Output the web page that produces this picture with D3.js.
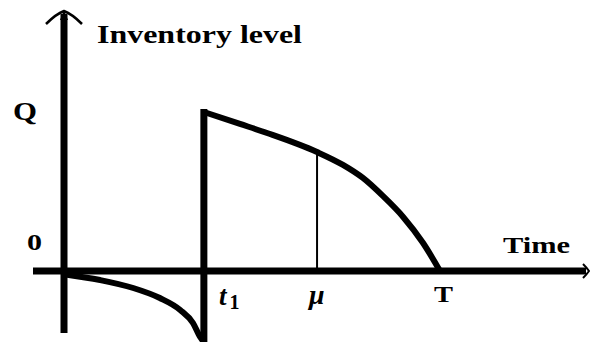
<!DOCTYPE html>
<html>
<head>
<meta charset="utf-8">
<script src="https://cdn.jsdelivr.net/npm/d3@7"></script>
<style>
  html, body { margin: 0; padding: 0; background: #fff; }
  svg { display: block; }
  text { font-family: "Liberation Serif", "Times New Roman", serif; font-weight: bold; fill: #000; }
</style>
</head>
<body>
<script>
const width = 590, height = 342

// time marks and level
const t1 = 3.72, mu = 6.73, T = 10, Q = 10

// stock on hand after replenishment at t1
const stockTime  = [3.72, 4.68, 5.40, 6.73, 7.42, 7.95, 8.48, 9.02, 9.55, 10]
const stockLevel = [10, 9.25, 8.68, 7.48, 6.67, 5.85, 4.72, 3.40, 1.76, 0]

// shortage before t1
const shortTime  = [0, 0.96, 1.84, 2.55, 3.09, 3.43, 3.62, 3.72]
const shortLevel = [-0.2, -0.57, -1.07, -1.70, -2.45, -3.27, -4.15, -4.47]

const x = d3.scaleLinear().domain([0, 10]).range([64, 440])
const y = d3.scaleLinear().domain([0, 10]).range([271, 112])

const svg = d3.select("body")
    .append("svg")
    .attr("width", width)
    .attr("height", height)

const line = d3.line()
    .x(d => x(d[0]))
    .y(d => y(d[1]))
    .curve(d3.curveMonotoneX)

// axes
svg.append("line")
    .attr("x1", x(0)).attr("x2", x(0))
    .attr("y1", 333).attr("y2", 14)
    .attr("stroke", "#000").attr("stroke-width", 7)

svg.append("line")
    .attr("x1", 33).attr("x2", 586)
    .attr("y1", y(0)).attr("y2", y(0))
    .attr("stroke", "#000").attr("stroke-width", 7)

// arrow heads
svg.append("path")
    .attr("d", `M${x(0) - 18},24 Q${x(0) - 8},14 ${x(0)},11 Q${x(0) + 8},14 ${x(0) + 18},24`)
    .attr("fill", "none").attr("stroke", "#000").attr("stroke-width", 2.5)
svg.append("path")
    .attr("d", `M${x(0) - 4},20 L${x(0)},10 L${x(0) + 4},20 Z`)
    .attr("fill", "#000")

svg.append("path")
    .attr("d", `M583,${y(0) - 7} Q587,${y(0) - 3} 589,${y(0)} Q587,${y(0) + 3} 583,${y(0) + 7}`)
    .attr("fill", "none").attr("stroke", "#000").attr("stroke-width", 2)

// curves
svg.append("path")
    .datum(d3.zip(shortTime, shortLevel))
    .attr("d", line)
    .attr("fill", "none").attr("stroke", "#000").attr("stroke-width", 6)

svg.append("path")
    .datum(d3.zip(stockTime, stockLevel))
    .attr("d", line)
    .attr("fill", "none").attr("stroke", "#000").attr("stroke-width", 6)
    .attr("stroke-linejoin", "round")

// replenishment at t1
svg.append("line")
    .attr("x1", x(t1)).attr("x2", x(t1))
    .attr("y1", height).attr("y2", y(Q) - 3)
    .attr("stroke", "#000").attr("stroke-width", 7)

// mu marker
svg.append("line")
    .attr("x1", x(mu)).attr("x2", x(mu))
    .attr("y1", y(stockLevel[3])).attr("y2", y(0))
    .attr("stroke", "#000").attr("stroke-width", 2)

// labels
svg.append("text").attr("x", 97).attr("y", 43)
    .attr("font-size", 25).attr("textLength", 205).attr("lengthAdjust", "spacingAndGlyphs")
    .text("Inventory level")

svg.append("text").attr("x", 13).attr("y", 120)
    .attr("font-size", 25).attr("textLength", 24).attr("lengthAdjust", "spacingAndGlyphs")
    .text("Q")

svg.append("text").attr("x", 27).attr("y", 250)
    .attr("font-size", 23).attr("textLength", 15).attr("lengthAdjust", "spacingAndGlyphs")
    .text("0")

svg.append("text").attr("x", 503).attr("y", 253)
    .attr("font-size", 23).attr("textLength", 67).attr("lengthAdjust", "spacingAndGlyphs")
    .text("Time")

const t1Label = svg.append("text").attr("x", 219).attr("y", 305)
    .attr("font-size", 27)
t1Label.append("tspan").attr("font-style", "italic").text("t")
t1Label.append("tspan").attr("dx", 3).attr("dy", 4).attr("font-size", 20).text("1")

svg.append("text").attr("x", 309).attr("y", 304)
    .attr("font-size", 28).attr("font-style", "italic")
    .text("μ")

svg.append("text").attr("x", 434).attr("y", 302)
    .attr("font-size", 24).attr("textLength", 19).attr("lengthAdjust", "spacingAndGlyphs")
    .text("T")
</script>
</body>
</html>
